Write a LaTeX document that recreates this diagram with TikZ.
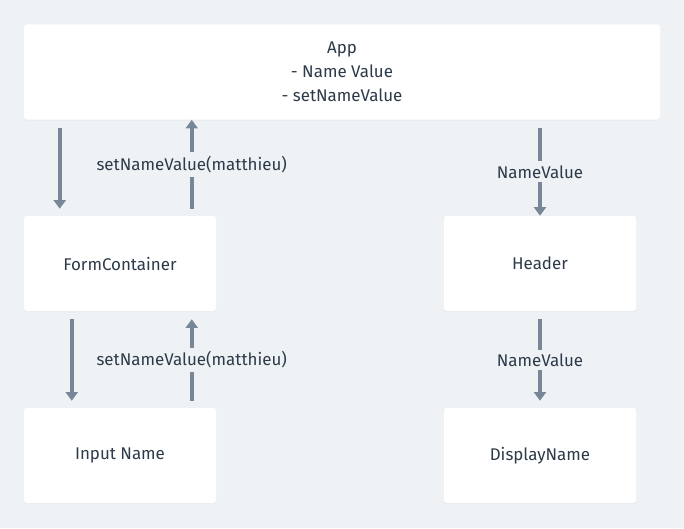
\documentclass[tikz,border=0pt]{standalone}
\usepackage{fontspec}
\setmainfont{Fira Sans}
\usetikzlibrary{calc,arrows.meta,shadows}
\definecolor{bgcol}{RGB}{239,242,245}
\definecolor{flowcol}{RGB}{120,135,152}
\definecolor{txtcol}{RGB}{45,58,74}
\tikzset{
  comp/.style={fill=white, rounded corners=2pt, text=txtcol, align=center,
    drop shadow={opacity=0.06, shadow xshift=0pt, shadow yshift=-0.8pt}},
  flow/.style={draw=flowcol, line width=3pt, -{Triangle[width=9pt,length=6.5pt]}},
  flowlabel/.style={fill=bgcol, text=txtcol, inner sep=3pt}
}
\begin{document}
\begin{tikzpicture}[x=0.75pt,y=0.75pt,yscale=-1,xscale=1,
  every node/.style={font=\fontsize{12.7}{18}\selectfont}]
%background
\fill[bgcol] (0,0) rectangle (684,528);
\useasboundingbox (0,0) rectangle (684,528);

%Components
\node[comp, minimum width=477pt, minimum height=71.25pt] (app) at (342,72) {App\\- Name Value\\- setNameValue};
\node[comp, minimum width=144pt, minimum height=71.25pt] (form) at (120,263.5) {FormContainer};
\node[comp, minimum width=144pt, minimum height=71.25pt] (header) at (540,263.5) {Header};
\node[comp, minimum width=144pt, minimum height=71.25pt] (input) at (120,455.5) {Input Name};
\node[comp, minimum width=144pt, minimum height=71.25pt] (display) at (540,455.5) {DisplayName};

%Straight Lines: App <-> FormContainer
\draw[flow] ($(app.south west)+(36,8)$) -- ($(form.north west)+(36,-7)$);
\draw[flow] ($(form.north west)+(168,-7)$) -- node[flowlabel] {setNameValue(matthieu)} ($(app.south west)+(168,0)$);

%Straight Lines: App -> Header
\draw[flow] ($(app.south -| header.north)+(0,8)$) -- node[flowlabel] {NameValue} (header.north);

%Straight Lines: FormContainer <-> Input Name
\draw[flow] ($(form.south west)+(48,8)$) -- ($(input.north west)+(48,-7)$);
\draw[flow] ($(input.north west)+(168,-7)$) -- node[flowlabel] {setNameValue(matthieu)} ($(form.south west)+(168,8)$);

%Straight Lines: Header -> DisplayName
\draw[flow] ($(header.south)+(0,8)$) -- node[flowlabel] {NameValue} ($(display.north)+(0,-7)$);

\end{tikzpicture}
\end{document}
